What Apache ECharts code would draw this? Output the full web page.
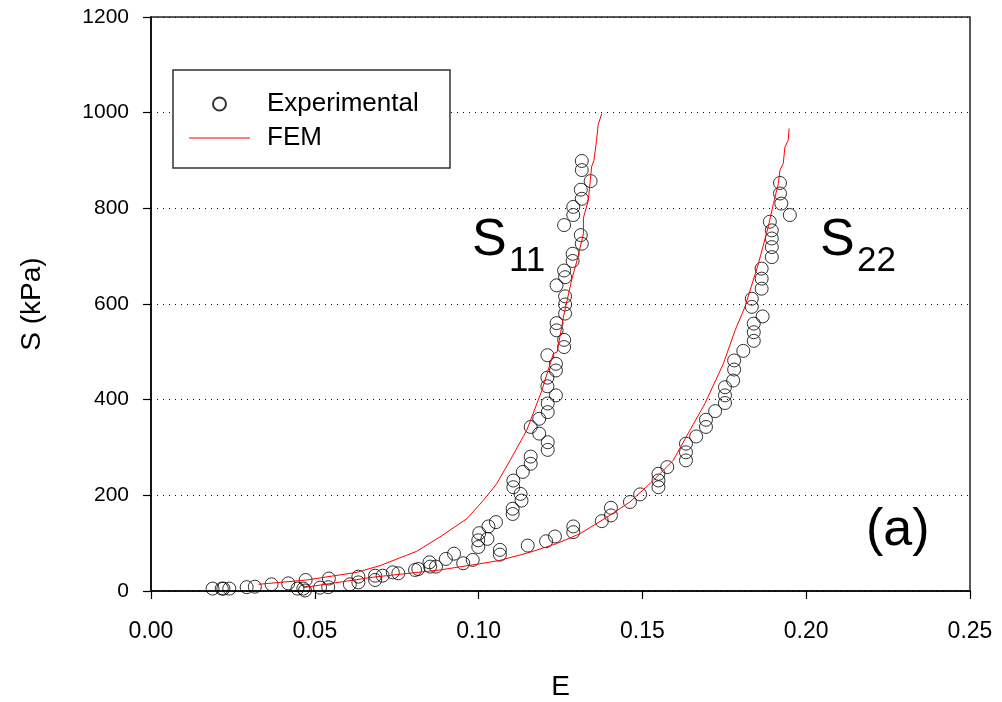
<!DOCTYPE html>
<html>
<head>
<meta charset="utf-8">
<script src="https://cdn.jsdelivr.net/npm/echarts@6/dist/echarts.min.js"></script>
<style>html,body{margin:0;padding:0;background:#fff;}#c{width:1002px;height:702px;}</style>
</head>
<body>
<div id="c"></div>
<script>
// Experimental points [E, S(kPa)]
var experimental = [
[0.0188,5],[0.0216,5],[0.0221,5],[0.0239,5],[0.0292,8],[0.0317,9],[0.0368,14],[0.0419,16],[0.0447,5],[0.0472,23],[0.0465,5],[0.0470,1],[0.0516,7],[0.0541,8],[0.0543,26],[0.0607,14],[0.0633,30],[0.0633,18],[0.0684,23],[0.0684,32],[0.0707,32],[0.0738,39],[0.0755,37],[0.0806,44],[0.0816,46],[0.0850,60],[0.0852,51],[0.0870,51],[0.0900,67],[0.0925,78],[0.0953,58],[0.0982,65],[0.0999,106],[0.0999,92],[0.1002,121],[0.1027,109],[0.1030,135],[0.1053,144],[0.1065,86],[0.1065,76],
[0.1104,172],[0.1104,161],[0.1106,231],[0.1106,217],[0.1128,203],[0.1131,189],[0.1135,249],[0.1159,281],[0.1159,266],[0.1159,343],[0.1185,360],[0.1185,329],[0.1211,311],[0.1211,295],[0.1211,392],[0.1211,374],[0.1236,409],[0.1210,446],[0.1210,428],[0.1236,475],[0.1236,461],[0.1210,493],[0.1261,525],[0.1261,510],[0.1238,560],[0.1238,545],[0.1264,616],[0.1264,599],[0.1264,580],[0.1238,639],[0.1261,670],[0.1264,656],[0.1287,705],[0.1287,690],[0.1312,744],[0.1315,726],[0.1261,765],[0.1289,803],[0.1289,786],[0.1312,839],[0.1315,820],[0.1342,857],[0.1315,899],[0.1315,880],
[0.1150,95],[0.1206,104],[0.1233,114],[0.1289,135],[0.1289,123],[0.1376,146],[0.1404,174],[0.1404,158],[0.1462,186],[0.1493,202],[0.1549,245],[0.1549,231],[0.1549,217],[0.1576,259],[0.1633,308],[0.1633,290],[0.1633,273],[0.1664,323],[0.1694,358],[0.1694,343],[0.1722,376],[0.1752,426],[0.1752,409],[0.1752,393],[0.1777,440],[0.1780,463],[0.1780,482],[0.1808,502],[0.1840,523],[0.1840,541],[0.1840,559],[0.1867,574],[0.1834,594],[0.1834,611],[0.1864,632],[0.1864,653],[0.1864,674],[0.1895,698],[0.1895,719],[0.1895,737],[0.1895,754],[0.1889,772],[0.1950,786],[0.1924,810],[0.1920,831],[0.1920,853]
];
// FEM curve for S11 [E, S]
var femS11 = [
[0.0328,14],[0.0475,23],[0.0628,39],[0.0699,53],[0.0811,83],[0.0882,113],[0.0964,151],[0.1014,189],[0.1055,224],[0.1096,273],[0.1147,336],[0.1193,419],[0.1228,496],[0.1240,500],[0.1259,573],[0.1284,650],[0.1300,690],[0.1320,747],[0.1320,780],[0.1335,817],[0.1345,887],[0.1352,900],[0.1360,942],[0.1365,975],[0.1376,998]
];
// FEM curve for S22 [E, S]
var femS22 = [
[0.0464,7],[0.0679,29],[0.0882,44],[0.1004,57],[0.1065,64],[0.1157,81],[0.1238,99],[0.1310,120],[0.1391,154],[0.1462,186],[0.1533,231],[0.1594,273],[0.1645,336],[0.1691,392],[0.1747,475],[0.1783,545],[0.1813,594],[0.1854,684],[0.1884,761],[0.1900,810],[0.1915,852],[0.1920,880],[0.1930,894],[0.1935,928],[0.1945,942],[0.1948,967]
];
var xTicks = {min: 0, max: 0.25, step: 0.05};
var yTicks = {min: 0, max: 1200, step: 200};

var FONT = "'Liberation Sans', Arial, sans-serif";
var chart = echarts.init(document.getElementById('c'), null, {renderer: 'canvas'});
chart.setOption({
  animation: false,
  backgroundColor: '#fff',
  textStyle: {fontFamily: FONT, color: '#000'},
  grid: {left: 151, right: 32, top: 17, bottom: 111, show: true, borderColor: '#222', borderWidth: 1.5, backgroundColor: 'transparent', containLabel: false, outerBoundsMode: 'none'},
  xAxis: {
    type: 'value', min: xTicks.min, max: xTicks.max, interval: xTicks.step,
    name: 'E', nameLocation: 'middle', nameGap: 82,
    nameTextStyle: {fontSize: 28, color: '#000', fontFamily: FONT},
    axisLine: {lineStyle: {color: '#000', width: 1.5}},
    axisTick: {length: 8, lineStyle: {color: '#000', width: 1.2}},
    axisLabel: {fontSize: 23, color: '#000', margin: 29, fontFamily: FONT, formatter: function(v){return v.toFixed(2);}},
    splitLine: {show: false}
  },
  yAxis: {
    type: 'value', min: yTicks.min, max: yTicks.max, interval: yTicks.step,
    name: 'S (kPa)', nameLocation: 'middle', nameGap: 105, nameRotate: 90,
    nameTextStyle: {fontSize: 28, color: '#000', fontFamily: FONT},
    axisLine: {lineStyle: {color: '#000', width: 1.5}},
    axisTick: {length: 8, lineStyle: {color: '#000', width: 1.2}},
    axisLabel: {fontSize: 21, color: '#000', margin: 22, fontFamily: FONT, formatter: function(v){return String(v);}},
    splitLine: {show: true, lineStyle: {color: '#000', width: 1, type: [1, 5]}}
  },
  legend: {
    orient: 'vertical', left: 184, top: 86, itemWidth: 61, itemHeight: 13, itemGap: 8,
    data: [
      {name: 'Experimental', icon: 'circle'},
      {name: 'FEM', icon: 'path://M0,0H61V1H0Z', itemStyle: {color: '#ff0000', borderWidth: 0}}
    ],
    textStyle: {fontSize: 26, color: '#000', fontFamily: FONT, padding: [0, 0, 0, 12]},
    z: 6
  },
  graphic: [
    {type: 'rect', z: 5, shape: {x: 173, y: 70, width: 277, height: 98}, style: {fill: '#fff', stroke: '#333', lineWidth: 1.5}},
    {type: 'text', z: 6, style: {x: 472, y: 241, text: 'S', font: '52px ' + FONT, fill: '#000', verticalAlign: 'middle'}},
    {type: 'text', z: 6, style: {x: 509, y: 261, text: '11', font: '35px ' + FONT, fill: '#000', verticalAlign: 'middle'}},
    {type: 'text', z: 6, style: {x: 820, y: 241, text: 'S', font: '52px ' + FONT, fill: '#000', verticalAlign: 'middle'}},
    {type: 'text', z: 6, style: {x: 857, y: 261, text: '22', font: '35px ' + FONT, fill: '#000', verticalAlign: 'middle'}},
    {type: 'text', z: 6, style: {x: 866, y: 531, text: '(a)', font: '52px ' + FONT, fill: '#000', verticalAlign: 'middle'}}
  ],
  series: [
    {
      name: 'Experimental', type: 'scatter', data: experimental, symbol: 'circle', symbolSize: 13,
      itemStyle: {color: 'rgba(0,0,0,0)', borderColor: '#000', borderWidth: 1}, z: 3
    },
    {
      name: 'FEM', type: 'line', data: femS11, symbol: 'none', showSymbol: false,
      lineStyle: {color: '#ff0000', width: 1}, itemStyle: {color: '#ff0000'}, z: 4
    },
    {
      name: 'FEM', type: 'line', data: femS22, symbol: 'none', showSymbol: false,
      lineStyle: {color: '#ff0000', width: 1}, itemStyle: {color: '#ff0000'}, z: 4
    }
  ]
});
</script>
</body>
</html>
